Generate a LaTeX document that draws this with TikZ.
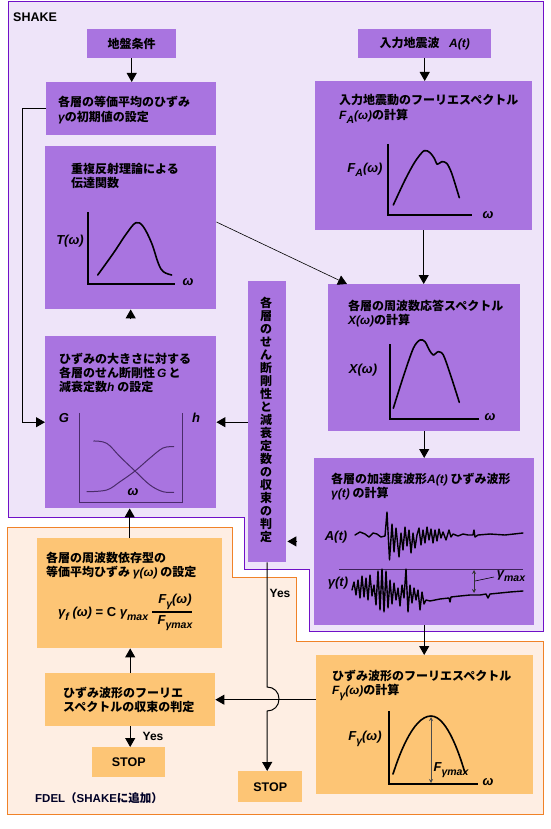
\documentclass[tikz,border=0pt]{standalone}
\usepackage{fontspec}
\setmainfont{Noto Sans CJK JP}
\newfontfamily\lat{Liberation Sans}
\usetikzlibrary{arrows.meta,calc}
\definecolor{pfill}{HTML}{A974E0}
\definecolor{pbg}{HTML}{EEE4F9}
\definecolor{pline}{HTML}{7010C8}
\definecolor{ofill}{HTML}{FDC575}
\definecolor{obg}{HTML}{FEEEE3}
\definecolor{oline}{HTML}{F08228}
\definecolor{dk}{HTML}{4A2C6A}
\newcommand\mi[1]{{\lat\bfseries\itshape #1}}
\newcommand\sbx[1]{\raisebox{-0.35em}{\fontsize{10.5}{10}\selectfont #1}}
\begin{document}
\begin{tikzpicture}[x=1pt,y=-1pt,font=\fontsize{12}{14}\selectfont\bfseries,
  pbox/.style={fill=pfill,draw=none,inner sep=0,anchor=north west},
  obox/.style={fill=ofill,draw=none,inner sep=0,anchor=north west},
  txt/.style={anchor=base west,inner sep=0},
  lbl/.style={inner sep=0,font=\fontsize{13}{13}\selectfont\lat\bfseries\itshape},
  latb/.style={inner sep=0,font=\fontsize{12.5}{12}\selectfont\lat\bfseries},
  arr/.style={-{Triangle[length=9pt,width=10pt]},line width=1pt},
  thinarr/.style={-{Triangle[length=9pt,width=10pt]},line width=0.6pt},
  ax/.style={line width=1.6pt},
  curve/.style={line width=1.6pt,line join=round,line cap=round},
  wave/.style={line width=1.4pt,line join=round,line cap=round}]
\useasboundingbox (0,0) rectangle (550,829);
\fill[white] (0,0) rectangle (550,829);
% regions
\draw[pline,fill=pbg,line width=1pt] (8,2) -- (543,2) -- (543,631) -- (309,631) -- (309,569) -- (244,569) -- (244,517) -- (8,517) -- cycle;
\draw[oline,fill=obg,line width=1pt] (7,527) -- (232,527) -- (232,577) -- (296,577) -- (296,641) -- (543,641) -- (543,814) -- (7,814) -- cycle;
\node[latb,anchor=base west] (shake) at (13,22) {SHAKE};
\node[anchor=base west,inner sep=0,font=\fontsize{11.5}{12}\selectfont\bfseries,text=black!85!blue] (fdel) at (35,802.5) {{\lat FDEL}（{\lat SHAKE}に追加）};
% boxes
\node[pbox,minimum width=89pt,minimum height=29pt] (b1) at (87,29) {地盤条件};
\node[pbox,minimum width=133pt,minimum height=29pt] (b2) at (358,29) {入力地震波\hspace{0.8em}\mi{A(t)}};
\node[pbox,minimum width=170pt,minimum height=53pt] (b3) at (46,82) {};
\node[pbox,minimum width=171pt,minimum height=163pt] (b4) at (45,146) {};
\node[pbox,minimum width=217pt,minimum height=149pt] (b5) at (315,81) {};
\node[pbox,minimum width=192pt,minimum height=147pt] (b6) at (328,284) {};
\node[pbox,minimum width=220pt,minimum height=167pt] (b7) at (314,458) {};
\node[pbox,minimum width=171pt,minimum height=172pt] (b8) at (45,336) {};
\node[pbox,minimum width=38pt,minimum height=281pt] (b9) at (248,281) {};
\node[obox,minimum width=185pt,minimum height=110pt] (b10) at (37,538) {};
\node[obox,minimum width=170pt,minimum height=53pt] (b11) at (45,673) {};
\node[obox,minimum width=73pt,minimum height=30pt,font=\fontsize{12.5}{12}\selectfont\lat\bfseries] (b12) at (92,747) {STOP};
\node[obox,minimum width=64pt,minimum height=31pt,font=\fontsize{12.5}{12}\selectfont\lat\bfseries] (b13) at (238,771) {STOP};
\node[obox,minimum width=217pt,minimum height=139pt] (b14) at (316,655) {};
% box texts
\node[txt] (t3a) at (58,107) {各層の等価平均のひずみ};
\node[txt] (t3b) at (58,121.5) {\mi{γ}の初期値の設定};
\node[txt] (t4a) at (71,174) {重複反射理論による};
\node[txt] (t4b) at (71,187.5) {伝達関数};
\node[txt] (t5a) at (339,105) {入力地震動のフーリエスペクトル};
\node[txt] (t5b) at (339,119.5) {\mi{F\sbx{A}(ω)}の計算};
\node[txt] (t6a) at (348,310.5) {各層の周波数応答スペクトル};
\node[txt] (t6b) at (348,324.5) {\mi{X(ω)}の計算};
\node[txt] (t7a) at (331,483.5) {各層の加速度波形\mi{A(t)} ひずみ波形};
\node[txt] (t7b) at (331,497) {\mi{γ(t)} の計算};
\node[txt] (t8a) at (59,363.5) {ひずみの大きさに対する};
\node[txt] (t8b) at (59,377.5) {各層のせん断剛性\,\mi{G}\,と};
\node[txt] (t8c) at (59,391) {減衰定数\mi{h} の設定};
\node[txt] (t10a) at (46,562) {各層の周波数依存型の};
\node[txt] (t10b) at (46,576) {等価平均ひずみ \mi{γ(ω)} の設定};
\node[txt] (t11a) at (63,697.5) {ひずみ波形のフーリエ};
\node[txt] (t11b) at (63,711) {スペクトルの収束の判定};
\node[txt] (t14a) at (332,680.5) {ひずみ波形のフーリエスペクトル};
\node[txt] (t14b) at (332,694) {\mi{F\sbx{γ}(ω)}の計算};
\foreach \ch [count=\i from 0] in {各,層,の,せ,ん,断,剛,性,と,減,衰,定,数,の,収,束,の,判,定}
  \node[anchor=base,inner sep=0] (v\i) at (266,307.9+12.96*\i) {\ch};
% graph T(omega)
\draw[ax] (88,212) -- (88,284) -- (175,284);
\draw[curve] plot[smooth,tension=0.6] coordinates {(97.7,275) (113.3,253.3) (126.7,233.3) (136,222.7) (143.3,226.7) (151.7,243.3) (158.3,263.3) (163.3,271.7) (171.7,275)};
\node[lbl] (lT) at (70,241) {T(ω)};
\node[lbl] (lw4) at (188,282) {ω};
% graph F_A
\draw[ax] (388,144) -- (388,215) -- (472,215);
\draw[curve] plot[smooth,tension=0.5] coordinates {(393.3,205) (405,180) (415,161.7) (424,150.7) (430,152.7) (434.3,158.3) (437.3,164.3) (441.7,161.7) (446.7,163.3) (451.7,173.3) (459.3,197.7)};
\node[lbl] (lFA) at (365,170) {F\sbx{A}(ω)};
\node[lbl] (lw5) at (488,215) {ω};
% graph X
\draw[ax] (390,344) -- (390,419) -- (479,419);
\draw[curve] plot[smooth,tension=0.5] coordinates {(393.3,408.3) (403.3,376.7) (413.3,348.3) (420,340) (425,341.7) (429.3,350) (433.3,355) (438.3,351.7) (443.3,355) (450,373.3) (459.3,402.3)};
\node[lbl] (lX) at (363,370) {X(ω)};
\node[lbl] (lw6) at (490,417) {ω};
% graph G h
\draw[dk,line width=0.9pt] (79,413) -- (79,502) -- (182,502) -- (182,413);
\draw[dk,line width=1pt] plot[smooth,tension=0.6] coordinates {(93.3,441) (106.7,443.3) (120,456.7) (135,471) (150,485) (163,491.7) (174,492.3)};
\draw[dk,line width=1pt] plot[smooth,tension=0.6] coordinates {(86.7,491.7) (106.7,490) (120,481.7) (135,471) (150,458) (163,448) (174,446.7)};
\node[lbl] (lG) at (64,418) {G};
\node[lbl] (lh) at (196,418) {h};
\node[lbl] (lw8) at (133,492) {ω};
% waveforms
\draw[dk!80!black,line width=0.9pt] (339,569) -- (523,569);
\draw[wave] plot coordinates {(355,535) (360,532) (365,534) (369,537) (373,533) (377,534) (381,537) (385,536) (387,512) (389.5,560) (392,524) (394,552) (396,528) (399,557) (401,533) (403,550) (405,527) (407,546) (409,530) (411,553) (413,533) (415,548) (417,535) (419,528) (421,545) (423,530) (425,543) (427,527) (429,540) (431,529) (433,543) (435,530) (437,541) (439,529) (441,538) (443,532) (446,540) (449,530) (451,537) (453,534) (458,536) (463,534) (468,535) (473,535) (474,530) (475,537) (478,535) (490,534) (505,535) (523,533)};
\draw[wave] plot coordinates {(352,590) (354,582) (356,595) (358,580) (360,598) (362,576) (364,597) (366,578) (368,600) (370,575) (372,596) (374,585) (376,605) (378,571) (380,610) (382,569) (384,612) (386,571) (388,608) (390,580) (392,604) (394,583) (396,600) (398,588) (400,606) (402,585) (404,598) (406,569) (408,612) (410,585) (412,603) (414,588) (416,600) (418,590) (420,610) (422,592) (424,604) (426,600) (430,601) (440,599) (449,598) (450,602) (451,597) (460,596) (470,595) (480,595) (486,594) (488,598) (490,594) (500,593) (510,592) (523,591)};
\node[lbl] (lA) at (336,537) {A(t)};
\node[lbl] (lg) at (338,583) {γ(t)};
\draw[{Stealth[length=4pt,width=4pt]}-{Stealth[length=4pt,width=4pt]},line width=0.8pt,black!80] (474,570) -- (474,593);
\draw[line width=0.6pt] (475,581) -- (494,577);
\node[lbl] (lgm) at (511,576) {γ\sbx{max}};
% formula
\node[lbl,anchor=base west] (f1) at (58,616) {γ\sbx{f} (ω) {\upshape = C} γ\sbx{max}};
\node[lbl] (f2) at (175,602) {F\sbx{γ}(ω)};
\draw[line width=1.5pt] (152,612) -- (192,612);
\node[lbl] (f3) at (175,623) {F\sbx{γmax}};
% graph F_gamma
\draw[ax] (389,711) -- (389,784) -- (478,784);
\draw[curve] (393,774) parabola bend (431,716) (465,773);
\draw[{Stealth[length=4pt,width=4pt]}-{Stealth[length=4pt,width=4pt]},line width=0.8pt,black!70] (431,717) -- (431,783);
\node[lbl] (lFg) at (365,739) {F\sbx{γ}(ω)};
\node[lbl] (lFgm) at (451,770) {F\sbx{γmax}};
\node[lbl] (lw14) at (488,782) {ω};
% connectors
\draw[arr] (b1.south) -- (b1.south |- b3.north);
\draw[arr] (b2.south) -- (b2.south |- b5.north);
\draw[arr] (b5.south) -- (b5.south |- b6.north);
\draw[arr] (b6.south) -- (b6.south |- b7.north);
\draw[arr] (b7.south) -- (b7.south |- b14.north);
\draw[thinarr] ($(b4.north east)+(0,76)$) -- ($(b6.north west)+(19,0)$);
\coordinate (t1) at ($(b4.south)+(0,10)$);
\draw[arr] (t1) -- (b4.south);
\coordinate (t2s) at ($(b9.south east)+(11,-21)$);
\coordinate (t2e) at ($(b9.south east)+(1,-21)$);
\draw[arr] (t2s) -- (t2e);
\draw[arr] (b3.west) -- ++(-24,0) |- (b8.west);
\draw[arr] (b9.west |- b8.east) -- (b8.east);
\draw[arr] (b9.south) -- (267,687) .. controls (274,687) and (279,692) .. (279,699) .. controls (279,706) and (274,711) .. (267,711) -- (b9.south |- b13.north);
\draw[arr] (b11.east -| b14.west) -- (b11.east);
\draw[arr] (b11.south) -- (b11.south |- b12.north);
\draw[arr] (b11.north) -- (b11.north |- b10.south);
\draw[arr] (b10.north) -- (b10.north |- b8.south);
\node[inner sep=0,font=\fontsize{12}{12}\selectfont\lat\bfseries] (y1) at (280,593) {Yes};
\node[inner sep=0,font=\fontsize{12}{12}\selectfont\lat\bfseries] (y2) at (153,736) {Yes};
\end{tikzpicture}
\end{document}
